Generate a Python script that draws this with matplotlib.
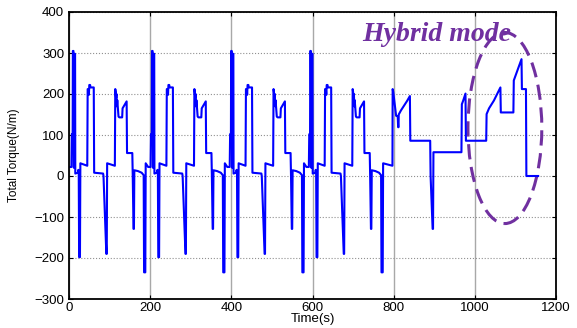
import numpy as np
import matplotlib
matplotlib.use('Agg')
import matplotlib.pyplot as plt
from matplotlib.patches import Ellipse

# one drive cycle (time s, torque N/m), first cycle
cycle_t = [0, 6, 7, 9, 9.5, 11, 12, 13, 15, 15.5, 22, 23, 24, 25, 27, 28,
           45, 46, 48, 49, 50, 52, 53, 61, 62, 84, 85, 92, 93, 94,
           113, 114, 115, 116, 117, 118, 119, 122, 124, 131, 132, 138, 142, 143,
           156, 157, 159, 160, 161, 170, 179, 184, 185, 188, 189]
cycle_v = [22, 22, 102, 102, 305, 305, 20, 298, 298, 6, 8, 15, 5, -198, -198, 31,
           25, 212, 212, 198, 222, 222, 216, 216, 8, 6, 0, -190, -190, 31,
           25, 212, 205, 190, 200, 170, 185, 145, 143, 143, 165, 175, 182, 56,
           56, 4, -129, -129, 14, 12, 8, 2, -235, -235, 31]
# start times of the four repeated cycles
cycle_starts = [0, 195, 390, 585]

# last part of the run, with the hybrid mode section
tail_t = [797, 797.5, 799, 806, 810, 811, 812, 812.5, 818, 833, 840, 841,
          890, 891, 896, 897, 898, 967, 968, 971, 977, 978, 1028, 1029,
          1035, 1047, 1063, 1064, 1095, 1096, 1115, 1116, 1126, 1127, 1156]
tail_v = [25, 212, 205, 147, 145, 119, 119, 150, 160, 183, 195, 86,
          86, 0, -129, -129, 58, 58, 175, 183, 201, 86, 86, 151,
          165, 184, 216, 155, 155, 233, 285, 212, 212, 0, 0]

t = np.concatenate([np.array(cycle_t) + s for s in cycle_starts] + [tail_t])
v = np.concatenate([cycle_v for s in cycle_starts] + [tail_v])

plt.rcParams['font.family'] = ['Liberation Sans', 'DejaVu Sans']

fig = plt.figure(figsize=(5.77, 3.28), dpi=100)
ax = fig.add_axes([69 / 577, 1 - 299 / 328, 487 / 577, 287 / 328])

ax.plot(t, v, color='#0000ff', lw=1.5)

ax.set_xlim(0, 1200)
ax.set_ylim(-300, 400)
ax.set_xticks(np.arange(0, 1201, 200))
ax.set_yticks(np.arange(-300, 401, 100))
ax.tick_params(direction='in', length=3, labelsize=9.5, top=True, right=True,
               labeltop=False, labelright=False)
ax.tick_params(axis='x', pad=2)
ax.xaxis.grid(True, color='#a8a8a8', lw=1.0, ls='-')
ax.yaxis.grid(True, color='#909090', lw=0.8, ls=':')
ax.set_axisbelow(True)
for sp in ax.spines.values():
    sp.set_linewidth(1.3)
    sp.set_color('black')

ax.set_xlabel('Time(s)', fontsize=9.5)
ax.xaxis.set_label_coords(0.5, -0.05)
ax.set_ylabel('Total Torque(N/m)', fontsize=8.5)
ax.yaxis.set_label_coords(-0.1, 0.5)

# hybrid mode marker
ell = Ellipse((1074, 117), width=182, height=466, fill=False,
              edgecolor='#7030A0', lw=2.2, ls=(0, (5, 2.5)))
ax.add_patch(ell)
ax.text(722, 330, 'Hybrid mode', color='#7030A0', fontsize=20,
        fontweight='bold', fontstyle='italic', family='Liberation Serif',
        va='baseline', ha='left')

fig.savefig('out.png', dpi=100)
